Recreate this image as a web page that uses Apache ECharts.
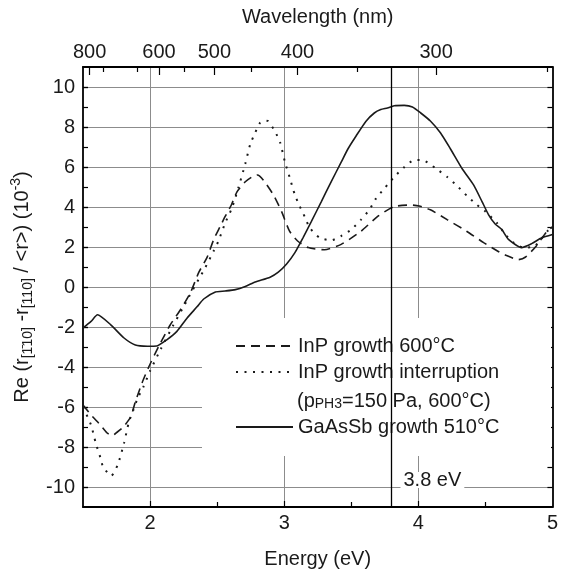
<!DOCTYPE html>
<html>
<head>
<meta charset="utf-8">
<script src="https://cdn.jsdelivr.net/npm/echarts@6/dist/echarts.min.js"></script>
<style>
	html, body { margin: 0; padding: 0; background: #fff; }
	#chart { width: 561px; height: 574px; }
</style>
</head>
<body>
<div id="chart"></div>
<script>
// values (energy in eV, signal in 10^-3)
var dashE = [1.5,1.56,1.63,1.68,1.72,1.756,1.8,1.855,1.89,1.94,1.99,2.065,2.15,2.23,2.3,2.364,2.425,2.475,2.524,2.56,2.606,2.648,2.71,2.76,2.8,2.845,2.92,2.98,3.04,3.1,3.18,3.3,3.425,3.573,3.697,3.82,3.944,4.006,4.09,4.215,4.36,4.487,4.59,4.648,4.747,4.8,4.88,4.956,5.0];
var dashV = [-5.9,-6.4,-6.9,-7.3,-7.42,-7.25,-7.0,-6.5,-5.75,-4.8,-4.0,-2.96,-1.9,-1.1,-0.3,0.74,1.48,2.38,3.04,3.53,4.1,4.76,5.26,5.5,5.6,5.34,4.6,3.78,2.79,2.3,1.97,1.86,2.13,2.79,3.53,4.02,4.1,4.05,3.86,3.37,2.79,2.22,1.8,1.6,1.37,1.5,2.05,2.75,3.0];

var dotE = [1.5,1.56,1.595,1.63,1.65,1.71,1.76,1.806,1.843,1.875,1.905,1.95,2.0,2.08,2.17,2.24,2.29,2.364,2.40,2.475,2.51,2.56,2.61,2.66,2.71,2.747,2.784,2.82,2.86,2.88,2.93,2.97,3.006,3.04,3.08,3.117,3.154,3.19,3.265,3.35,3.425,3.5,3.573,3.635,3.685,3.747,3.82,3.895,3.97,4.04,4.13,4.216,4.29,4.364,4.438,4.5,4.586,4.648,4.71,4.784,4.87,4.97,5.0];
var dotV = [-6.0,-6.9,-7.8,-8.54,-9.0,-9.44,-8.87,-7.8,-6.73,-6.16,-5.6,-5.0,-4.2,-3.1,-1.95,-1.1,-0.49,0.41,0.82,1.81,2.3,3.2,3.94,5.0,6.16,7.14,7.72,8.21,8.32,8.29,7.8,7.22,6.24,5.5,4.6,4.02,3.5,2.96,2.46,2.33,2.55,2.87,3.37,3.86,4.43,4.93,5.5,5.99,6.35,6.33,5.93,5.5,5.05,4.55,4.1,3.78,3.2,2.63,2.22,1.97,2.05,2.85,3.0];

var solE = [1.5,1.56,1.608,1.707,1.806,1.89,1.98,2.05,2.127,2.2,2.275,2.35,2.40,2.487,2.56,2.636,2.71,2.784,2.895,2.956,3.018,3.08,3.14,3.203,3.277,3.35,3.425,3.475,3.536,3.61,3.672,3.72,3.77,3.82,3.895,3.956,4.018,4.09,4.166,4.24,4.327,4.413,4.475,4.524,4.573,4.623,4.672,4.77,4.845,4.92,5.0];
var solV = [-2.05,-1.72,-1.39,-1.89,-2.55,-2.9,-2.96,-2.95,-2.63,-2.22,-1.56,-0.99,-0.6,-0.25,-0.2,-0.13,0.03,0.25,0.49,0.74,1.15,1.72,2.46,3.28,4.27,5.26,6.24,6.9,7.55,8.29,8.7,8.87,8.95,9.06,9.08,9.0,8.7,8.3,7.7,6.9,5.91,5.09,4.27,3.61,3.15,2.87,2.38,1.97,2.17,2.46,2.63];

var seriesNames = ['InP growth 600°C', 'InP growth interruption', 'GaAsSb growth 510°C'];
var subLine = '(p{s|PH3}=150 Pa, 600°C)';

// axis ticks
var energyLabels = [2, 3, 4, 5];
var energyGrid = [2, 3, 4];
var energyMinor = [2.5, 3.5, 4.5];
var wlLabels = [800, 600, 500, 400, 300];
var wlMinor = [750, 650, 550, 450, 350, 250];
var yLabels = [-10, -8, -6, -4, -2, 0, 2, 4, 6, 8, 10];
var yMinor = [-10,-9,-8,-7,-6,-5,-4,-3,-2,-1,0,1,2,3,4,5,6,7,8,9,10];
var markerEnergy = 3.8;
var markerLabelY = -9.65;

var HC = 1239.84;
var FONT = 'Liberation Sans, Arial, sans-serif';
var INK = '#1a1a1a';
var GRIDC = '#8c8c8c';

function pairs(xs, ys) {
	return xs.map(function (x, i) { return [x, ys[i]]; });
}
function toEnergy(nm) { return HC / nm; }

var chart = echarts.init(document.getElementById('chart'));

var baseX = { type: 'value', min: 1.5, max: 5 };
var baseY = { type: 'value', min: -11, max: 11 };

var option = {
	animation: false,
	grid: { left: 83, right: 4, top: 67, bottom: 63, containLabel: false },
	xAxis: [
		Object.assign({}, baseX, {
			position: 'bottom',
			axisLine: { onZero: false, lineStyle: { color: '#000', width: 1.8 } },
			axisTick: { inside: true, length: 6, customValues: energyGrid, lineStyle: { color: '#000', width: 1.2 } },
			axisLabel: { customValues: energyLabels, color: INK, fontSize: 20, fontFamily: FONT, margin: 6 },
			splitLine: { show: true, lineStyle: { color: GRIDC, width: 1 } },
			name: 'Energy (eV)', nameLocation: 'middle', nameGap: 42,
			nameTextStyle: { color: INK, fontSize: 20, fontFamily: FONT }
		}),
		Object.assign({}, baseX, {
			position: 'bottom',
			axisLine: { show: false, onZero: false },
			axisTick: { inside: true, length: 5, customValues: energyMinor, lineStyle: { color: '#000', width: 1.2 } },
			axisLabel: { show: false },
			splitLine: { show: false }
		}),
		Object.assign({}, baseX, {
			position: 'top',
			axisLine: { onZero: false, lineStyle: { color: '#000', width: 1.8 } },
			axisTick: { inside: true, length: 8, customValues: wlLabels.map(toEnergy), lineStyle: { color: '#000', width: 1.2 } },
			axisLabel: {
				customValues: wlLabels.map(toEnergy), color: INK, fontSize: 20, fontFamily: FONT, margin: 5,
				formatter: function (v) { return Math.round(HC / v); }
			},
			splitLine: { show: false },
			name: 'Wavelength (nm)', nameLocation: 'middle', nameGap: 40,
			nameTextStyle: { color: INK, fontSize: 20, fontFamily: FONT }
		}),
		Object.assign({}, baseX, {
			position: 'top',
			axisLine: { show: false, onZero: false },
			axisTick: { inside: true, length: 5, customValues: wlMinor.map(toEnergy), lineStyle: { color: '#000', width: 1.2 } },
			axisLabel: { show: false },
			splitLine: { show: false }
		})
	],
	yAxis: [
		Object.assign({}, baseY, {
			position: 'left',
			axisLine: { show: true, onZero: false, lineStyle: { color: '#000', width: 1.8 } },
			axisTick: { show: true, inside: true, length: 5, customValues: yLabels, lineStyle: { color: '#000', width: 1.2 } },
			axisLabel: { customValues: yLabels, color: INK, fontSize: 20, fontFamily: FONT, margin: 8 },
			splitLine: { show: true, lineStyle: { color: GRIDC, width: 1 } },
			name: '{t|Re (r}{s|[1\u030410]}{t| -r}{s|[110]}{t| / <r>) (10}{p|-3}{t|)}',
			nameLocation: 'middle', nameRotate: 90, nameGap: 44,
			nameTextStyle: {
				color: INK, fontFamily: FONT,
				rich: {
					t: { fontSize: 20, lineHeight: 26, fontFamily: FONT, color: INK },
					s: { fontSize: 14, lineHeight: 14, verticalAlign: 'bottom', fontFamily: FONT, color: INK },
					p: { fontSize: 14, lineHeight: 14, verticalAlign: 'top', fontFamily: FONT, color: INK }
				}
			}
		}),
		Object.assign({}, baseY, {
			position: 'left',
			axisLine: { show: false, onZero: false },
			axisTick: { show: true, inside: true, length: 5, customValues: yMinor, lineStyle: { color: '#000', width: 1.2 } },
			axisLabel: { show: false },
			splitLine: { show: false }
		}),
		Object.assign({}, baseY, {
			position: 'right',
			axisLine: { show: true, onZero: false, lineStyle: { color: '#000', width: 1.8 } },
			axisTick: { show: true, inside: true, length: 5, customValues: yMinor, lineStyle: { color: '#000', width: 1.2 } },
			axisLabel: { show: false },
			splitLine: { show: false }
		})
	],
	legend: [{
		data: [seriesNames[0], seriesNames[1]],
		orient: 'vertical', left: 235, top: 335, padding: 0,
		itemWidth: 57, itemHeight: 14, itemGap: 4,
		itemStyle: { opacity: 0 },
		textStyle: { color: INK, fontSize: 20, fontFamily: FONT, lineHeight: 22 },
		selectedMode: false
	}, {
		data: [seriesNames[2]],
		orient: 'vertical', left: 235, top: 416, padding: 0,
		itemWidth: 57, itemHeight: 14,
		itemStyle: { opacity: 0 },
		textStyle: { color: INK, fontSize: 20, fontFamily: FONT, lineHeight: 22 },
		selectedMode: false
	}],
	graphic: [{
		type: 'rect', z: 3, silent: true,
		shape: { x: 202, y: 318, width: 349, height: 138 },
		style: { fill: '#fff' }
	}, {
		type: 'text', z: 5, silent: true, x: 297, y: 401,
		style: {
			text: subLine, fill: INK, fontSize: 20, fontFamily: FONT, verticalAlign: 'middle',
			rich: { s: { fontSize: 14, fontFamily: FONT, fill: INK, verticalAlign: 'bottom', lineHeight: 14, padding: [10, 0, 0, 0] } }
		}
	}],
	series: [{
		name: seriesNames[0], type: 'line', data: pairs(dashE, dashV),
		symbol: 'none', smooth: 0.2, silent: true,
		lineStyle: { color: INK, width: 1.6, type: [9, 6] }
	}, {
		name: seriesNames[1], type: 'line', data: pairs(dotE, dotV),
		symbol: 'none', smooth: 0.2, silent: true,
		lineStyle: { color: INK, width: 2, type: [2, 6.5] }
	}, {
		name: seriesNames[2], type: 'line', data: pairs(solE, solV),
		symbol: 'none', smooth: 0.2, silent: true,
		lineStyle: { color: INK, width: 1.6, type: 'solid' },
		markLine: {
			silent: true, symbol: ['none', 'none'], label: { show: false },
			lineStyle: { color: '#000', width: 1.3, type: 'solid' },
			data: [{ xAxis: markerEnergy }]
		},
		markPoint: {
			silent: true, symbol: 'circle', symbolSize: 0,
			label: {
				show: true, position: 'right', distance: 9, formatter: '3.8 eV',
				color: INK, fontSize: 20, fontFamily: FONT, lineHeight: 16,
				backgroundColor: '#fff', padding: [0, 3, 0, 3]
			},
			data: [{ coord: [markerEnergy, markerLabelY] }]
		}
	}]
};

chart.setOption(option);
</script>
</body>
</html>
